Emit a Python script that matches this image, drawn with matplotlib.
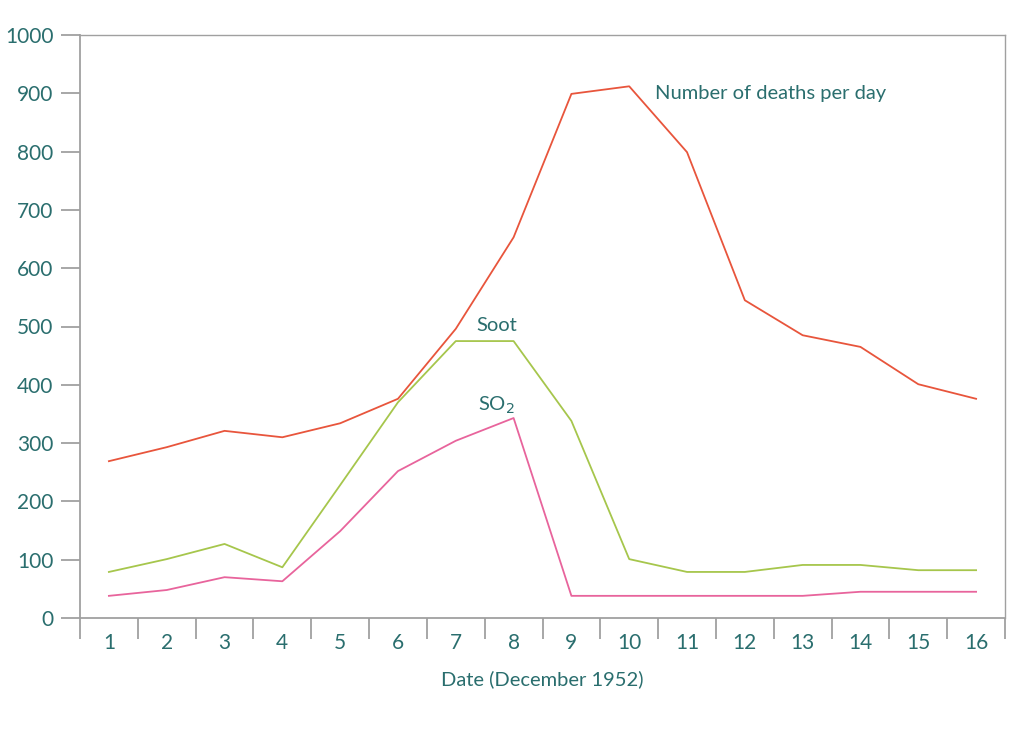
import matplotlib
matplotlib.use("Agg")
import matplotlib.pyplot as plt

days = list(range(1, 17))
deaths = [269, 293, 321, 310, 334, 376, 496, 653, 899, 912, 799, 545, 485, 465, 401, 376]
soot = [79, 101, 127, 87, 228, 370, 475, 475, 338, 101, 79, 79, 91, 91, 82, 82]
so2 = [38, 48, 70, 63, 149, 252, 304, 343, 38, 38, 38, 38, 38, 45, 45, 45]
yticks = [0, 100, 200, 300, 400, 500, 600, 700, 800, 900, 1000]

teal = "#2a6e6e"
grey = "#a0a0a0"
plt.rcParams['font.family'] = ['Lato', 'DejaVu Sans']

fig = plt.figure(figsize=(10.3, 7.3), dpi=100)
ax = fig.add_axes([80/1030, 1-618/730, (1005-80)/1030, (618-35)/730])

ax.plot(days, deaths, color="#e8553c", lw=1.3)
ax.plot(days, soot, color="#a6c64c", lw=1.3)
ax.plot(days, so2, color="#e8649c", lw=1.3)

ax.set_xlim(0.5, 16.5)
ax.set_ylim(0, 1000)
ax.set_yticks(yticks)
ax.set_yticklabels([str(v) for v in yticks])
ax.set_xticks([d - 0.5 for d in days] + [16.5])
ax.set_xticklabels([])
ax.set_xticks(days, minor=True)
ax.set_xticklabels([str(d) for d in days], minor=True)
ax.tick_params(axis='x', which='major', length=15, width=1.3, color=grey, direction='out')
ax.tick_params(axis='x', which='minor', length=0, pad=11, labelsize=15, labelcolor=teal)
ax.tick_params(axis='y', which='major', length=14, width=1.3, color=grey, pad=5,
               labelsize=15, labelcolor=teal)

for s in ax.spines.values():
    s.set_color(grey)
    s.set_linewidth(1.3)
ax.spines['top'].set_linewidth(1.0)
ax.spines['right'].set_linewidth(1.0)

ax.set_xlabel("Date (December 1952)", fontsize=14.5, color=teal, labelpad=12)

ax.text(10.45, 899, "Number of deaths per day", fontsize=14.5, color=teal, va='center', ha='left')
ax.text(7.71, 501, "Soot", fontsize=14.5, color=teal, va='center', ha='center')
ax.text(7.71, 365, "SO$_2$", fontsize=14.5, color=teal, va='center', ha='center')

fig.savefig("out.png", dpi=100)
